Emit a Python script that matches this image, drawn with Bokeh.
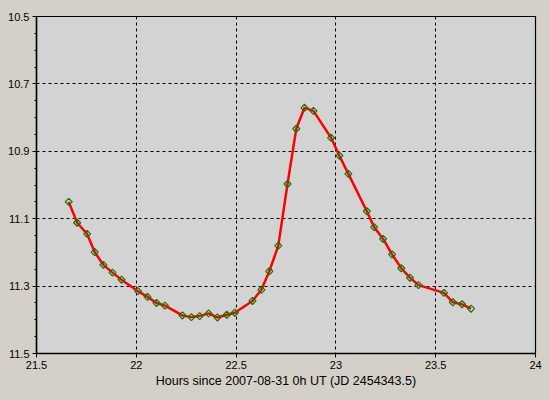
import math
from bokeh.plotting import figure
from bokeh.models import Range1d, FixedTicker, CustomJSTickFormatter
from bokeh.embed import file_html
from bokeh.resources import INLINE

hours = [21.6615, 21.7035, 21.7535, 21.7915, 21.835, 21.881, 21.926,
         22.0085, 22.056, 22.1015, 22.1435, 22.231, 22.276, 22.3175,
         22.362, 22.4065, 22.4535, 22.4935, 22.582, 22.6265, 22.6665,
         22.7115, 22.7575, 22.8015, 22.8425, 22.8875, 22.976, 23.0175,
         23.0625, 23.155, 23.1915, 23.2365, 23.2815, 23.3275, 23.371,
         23.414, 23.5415, 23.586, 23.632, 23.677]
mags = [11.050, 11.112, 11.145, 11.199, 11.237, 11.260, 11.281,
        11.315, 11.332, 11.350, 11.358, 11.387, 11.392, 11.389,
        11.381, 11.393, 11.385, 11.379, 11.344, 11.311, 11.256,
        11.180, 10.997, 10.833, 10.771, 10.780, 10.860, 10.913,
        10.967, 11.078, 11.125, 11.160, 11.206, 11.247, 11.275,
        11.297, 11.320, 11.348, 11.354, 11.367]

x_ticks = [21.5, 22.0, 22.5, 23.0, 23.5, 24.0]
y_ticks = [10.5, 10.7, 10.9, 11.1, 11.3, 11.5]
x_label = "Hours since 2007-08-31 0h UT (JD 2454343.5)"

FONT = "Liberation Sans"

p = figure(width=550, height=400, output_backend="svg", toolbar_location=None,
           x_range=Range1d(21.5, 24.0), y_range=Range1d(11.5, 10.5),
           min_border_left=36, min_border_right=15, min_border_top=16,
           min_border_bottom=47)

p.background_fill_color = "#d3d3d3"
p.border_fill_color = "#d4d0c8"
p.outline_line_color = "black"
p.outline_line_width = 1.2

# axes
p.xaxis.ticker = FixedTicker(ticks=x_ticks)
p.yaxis.ticker = FixedTicker(ticks=y_ticks,
                             minor_ticks=[10.5 + 0.05 * i for i in range(21)])
fmt = CustomJSTickFormatter(code="return String(Math.round(tick*10)/10);")
p.xaxis.formatter = fmt
p.yaxis.formatter = fmt
for ax in (p.xaxis, p.yaxis):
    ax.axis_line_color = "black"
    ax.axis_line_width = 1.5
    ax.major_tick_line_color = "black"
    ax.major_tick_in = 0
    ax.major_tick_out = 4
    ax.major_label_text_font = FONT
    ax.major_label_text_font_size = "11px"
    ax.major_label_text_color = "black"
    ax.major_label_standoff = 3
p.xaxis.minor_tick_line_color = None
p.yaxis.minor_tick_line_color = "black"
p.yaxis.minor_tick_in = 0
p.yaxis.minor_tick_out = 2
p.xaxis.axis_label = x_label
p.xaxis.axis_label_text_font = FONT
p.xaxis.axis_label_text_font_size = "12.5px"
p.xaxis.axis_label_text_font_style = "normal"
p.xaxis.axis_label_text_color = "black"
p.xaxis.axis_label_standoff = 2

# grid
for g in (p.xgrid, p.ygrid):
    g.grid_line_color = "black"
    g.grid_line_dash = "3 3"
    g.grid_line_width = 1
p.xgrid.ticker = FixedTicker(ticks=x_ticks)
p.ygrid.ticker = FixedTicker(ticks=y_ticks)

p.line(hours, mags, line_color="#ff0000", line_width=2.5)
p.scatter(hours, mags, marker="square", size=5, angle=math.pi / 4,
          fill_color=None, line_color="#008000", line_width=1.2)

html = file_html(p, INLINE)
html = html.replace("</head>", "<style>body{background:#d4d0c8;}</style></head>", 1)
open("out.html", "w").write(html)
